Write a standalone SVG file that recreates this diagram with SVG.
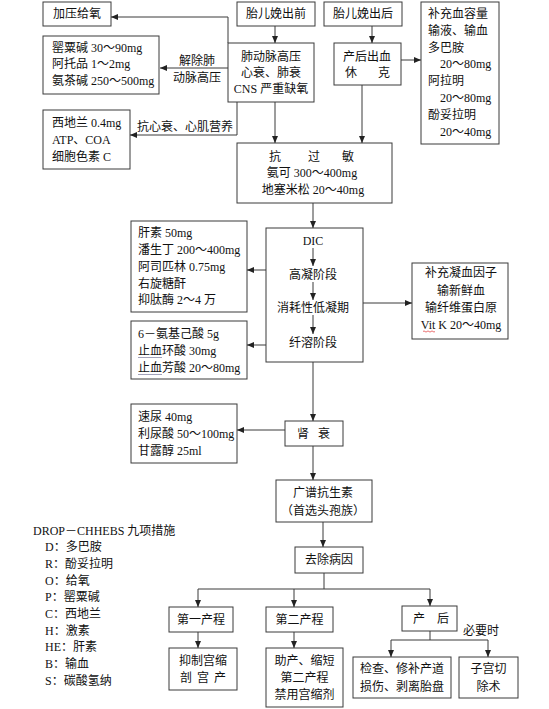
<svg xmlns="http://www.w3.org/2000/svg" width="549" height="709" viewBox="0 0 549 709">
<defs>
<marker id="ah" markerWidth="7" markerHeight="6" refX="7" refY="3" orient="auto" markerUnits="userSpaceOnUse">
<path d="M0,0 L7,3 L0,6 z" fill="#222"/>
</marker>
<style>
.b{fill:#fff;stroke:#3a3a3a;stroke-width:1}
.t{font-family:"Liberation Serif","Noto Sans CJK SC",serif;font-size:12px;fill:#111}
.m{text-anchor:middle}
.c{fill:none;stroke:#3a3a3a;stroke-width:1}
.a{marker-end:url(#ah)}
</style>
</defs>
<rect width="549" height="709" fill="#fff"/>

<g id="n-jiaya"><rect class="b" x="43" y="2" width="68" height="24"/><text class="t m" x="77" y="18">加压给氧</text></g>
<g id="n-qian"><rect class="b" x="237" y="2" width="78" height="24"/><text class="t m" x="276" y="18">胎儿娩出前</text></g>
<g id="n-hou"><rect class="b" x="324" y="2" width="78" height="24"/><text class="t m" x="363" y="18">胎儿娩出后</text></g>
<g id="n-buchong"><rect class="b" x="421" y="2" width="78" height="142"/>
<text class="t" x="428" y="18">补充血容量</text>
<text class="t" x="428" y="35">输液、输血</text>
<text class="t" x="428" y="52">多巴胺</text>
<text class="t" x="440" y="68">20～80mg</text>
<text class="t" x="428" y="85">阿拉明</text>
<text class="t" x="440" y="102">20～80mg</text>
<text class="t" x="428" y="119">酚妥拉明</text>
<text class="t" x="440" y="136">20～40mg</text>
</g>
<g id="n-fei"><rect class="b" x="228" y="43" width="86" height="59"/>
<text class="t m" x="271" y="61">肺动脉高压</text>
<text class="t m" x="271" y="77">心衰、肺衰</text>
<text class="t m" x="271" y="93">CNS 严重缺氧</text>
</g>
<g id="n-chuxue"><rect class="b" x="334" y="43" width="67" height="42"/>
<text class="t m" x="367" y="61">产后出血</text>
<text class="t"><tspan x="345" y="77">休</tspan><tspan x="378" y="77">克</tspan></text>
</g>
<g id="n-ying"><rect class="b" x="43" y="36" width="116" height="58"/>
<text class="t" x="52" y="52">罂粟碱 30～90mg</text>
<text class="t" x="52" y="68">阿托品 1～2mg</text>
<text class="t" x="52" y="85">氨茶碱 250～500mg</text>
</g>
<g id="n-xidi"><rect class="b" x="43" y="110" width="87" height="59"/>
<text class="t" x="52" y="127">西地兰 0.4mg</text>
<text class="t" x="52" y="144">ATP、COA</text>
<text class="t" x="52" y="161">细胞色素 C</text>
</g>
<g id="n-guomin"><rect class="b" x="237" y="143" width="155" height="60"/>
<text class="t"><tspan x="269" y="161">抗</tspan><tspan x="308" y="161">过</tspan><tspan x="342" y="161">敏</tspan></text>
<text class="t m" x="312" y="177">氨可 300～400mg</text>
<text class="t m" x="313" y="194">地塞米松 20～40mg</text>
</g>
<g id="n-dic"><rect class="b" x="266" y="228" width="97" height="134"/>
<text class="t m" x="313" y="245">DIC</text>
<text class="t m" x="313" y="279">高凝阶段</text>
<text class="t m" x="313" y="312">消耗性低凝期</text>
<text class="t m" x="313" y="347">纤溶阶段</text>
</g>
<g id="n-gansu"><rect class="b" x="131" y="221" width="116" height="91"/>
<text class="t" x="138" y="237">肝素 50mg</text>
<text class="t" x="138" y="254">潘生丁 200～400mg</text>
<text class="t" x="138" y="271">阿司匹林 0.75mg</text>
<text class="t" x="138" y="288">右旋糖酐</text>
<text class="t" x="138" y="304">抑肽酶 2～4 万</text>
</g>
<g id="n-anji"><rect class="b" x="131" y="321" width="116" height="58"/>
<text class="t" x="138" y="338">6－氨基己酸 5g</text>
<text class="t" x="138" y="355">止血环酸 30mg</text>
<text class="t" x="138" y="372">止血芳酸 20～80mg</text>
<path d="M138,357.5 H162 M138,374.5 H162" stroke="#8a8aa8" stroke-width="0.8" fill="none"/>
</g>
<g id="n-ningxue"><rect class="b" x="412" y="263" width="96" height="76"/>
<text class="t m" x="461" y="277">补充凝血因子</text>
<text class="t m" x="461" y="295">输新鲜血</text>
<text class="t m" x="461" y="312">输纤维蛋白原</text>
<text class="t m" x="461" y="329">Vit K 20～40mg</text>
<path d="M423,331.5 q1,-1.2 2,0 t2,0 t2,0 t2,0 t2,0 t2,0" stroke="#e03030" stroke-width="0.7" fill="none"/>
</g>
<g id="n-suniao"><rect class="b" x="131" y="404" width="106" height="59"/>
<text class="t" x="138" y="421">速尿 40mg</text>
<text class="t" x="138" y="438">利尿酸 50～100mg</text>
<text class="t" x="138" y="455">甘露醇 25ml</text>
</g>
<g id="n-shenshuai"><rect class="b" x="285" y="421" width="58" height="25"/>
<text class="t"><tspan x="297" y="438">肾</tspan><tspan x="318" y="438">衰</tspan></text>
</g>
<g id="n-kangsheng"><rect class="b" x="276" y="480" width="96" height="42"/>
<text class="t m" x="323" y="497">广谱抗生素</text>
<text class="t m" x="323" y="515">（首选头孢族）</text>
</g>
<g id="n-quchu"><rect class="b" x="295" y="547" width="68" height="26"/>
<text class="t m" x="329" y="564">去除病因</text>
</g>
<g id="n-di1"><rect class="b" x="169" y="607" width="64" height="25"/>
<text class="t m" x="201" y="624">第一产程</text>
</g>
<g id="n-di2"><rect class="b" x="266" y="607" width="67" height="25"/>
<text class="t m" x="299.5" y="624">第二产程</text>
</g>
<g id="n-chanhou"><rect class="b" x="402" y="606" width="55" height="25"/>
<text class="t"><tspan x="413" y="623">产</tspan><tspan x="437" y="623">后</tspan></text>
</g>
<g id="n-yizhi"><rect class="b" x="169" y="648" width="68" height="42"/>
<text class="t m" x="203" y="665">抑制宫缩</text>
<text class="t"><tspan x="180" y="682">剖</tspan><tspan x="197" y="682">宫</tspan><tspan x="214" y="682">产</tspan></text>
</g>
<g id="n-zhuchan"><rect class="b" x="266" y="648" width="77" height="59"/>
<text class="t m" x="304.5" y="665">助产、缩短</text>
<text class="t m" x="304.5" y="682">第二产程</text>
<text class="t m" x="304.5" y="699">禁用宫缩剂</text>
</g>
<g id="n-jiancha"><rect class="b" x="353" y="657" width="98" height="41"/>
<text class="t m" x="402" y="673">检查、修补产道</text>
<text class="t m" x="402" y="691">损伤、剥离胎盘</text>
</g>
<g id="n-zigong"><rect class="b" x="459" y="657" width="59" height="41"/>
<text class="t m" x="488.5" y="673">子宫切</text>
<text class="t m" x="488.5" y="691">除术</text>
</g>

<g id="legend">
<text class="t" x="33" y="535">DROP－CHHEBS 九项措施</text>
<text class="t" x="45" y="551">D：多巴胺</text>
<text class="t" x="45" y="568">R：酚妥拉明</text>
<text class="t" x="45" y="585">O：给氧</text>
<text class="t" x="45" y="601">P：罂粟碱</text>
<text class="t" x="45" y="618">C：西地兰</text>
<text class="t" x="45" y="635">H：激素</text>
<text class="t" x="45" y="651">HE：肝素</text>
<text class="t" x="45" y="668">B：输血</text>
<text class="t" x="45" y="685">S：碳酸氢纳</text>
</g>

<g id="connectors">
<path class="c a" d="M275,26 V43"/>
<path class="c a" d="M372,26 V43"/>
<path class="c a" d="M228,43 V17 H111"/>
<path class="c a" d="M228,68 H160"/>
<path class="c a" d="M237,102 V135 H130"/>
<path class="c a" d="M275,102 V143"/>
<path class="c a" d="M401,60 H421"/>
<path class="c a" d="M362,85 V143"/>
<path class="c a" d="M313,203 V228"/>
<path class="c a" d="M313,248 V266"/>
<path class="c a" d="M313,282 V300"/>
<path class="c a" d="M313,315 V334"/>
<path class="c a" d="M266,270 H247"/>
<path class="c a" d="M266,345 H247"/>
<path class="c a" d="M363,303 H412"/>
<path class="c a" d="M313,362 V421"/>
<path class="c a" d="M285,430 H237"/>
<path class="c a" d="M313,446 V480"/>
<path class="c a" d="M323,522 V547"/>
<path class="c" d="M324,573 V589 M198,589 H430"/>
<path class="c a" d="M198,589 V607"/>
<path class="c a" d="M294,589 V607"/>
<path class="c a" d="M430,589 V606"/>
<path class="c a" d="M198,632 V648"/>
<path class="c a" d="M294,632 V648"/>
<path class="c" d="M430,631 V640 M391,640 H488"/>
<path class="c a" d="M391,640 V657"/>
<path class="c a" d="M488,640 V657"/>
<text class="t m" x="197" y="65">解除肺</text>
<text class="t m" x="197" y="82">动脉高压</text>
<text class="t m" x="185" y="131">抗心衰、心肌营养</text>
<text class="t m" x="481" y="635">必要时</text>
</g>
</svg>
